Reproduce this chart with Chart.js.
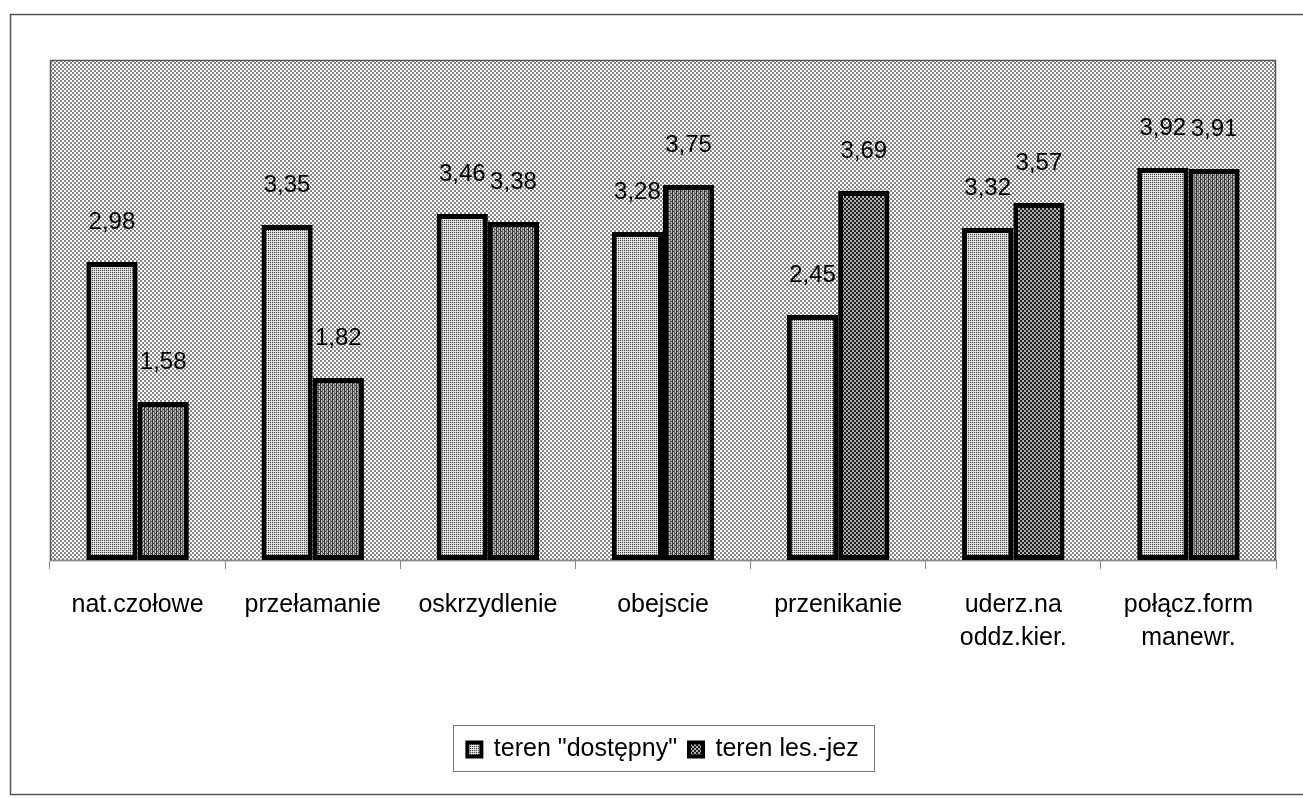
<!DOCTYPE html>
<html>
<head>
<meta charset="utf-8">
<script src="https://cdn.jsdelivr.net/npm/chart.js@4.4.1/dist/chart.umd.min.js"></script>
<style>
  body { margin: 0; background: #fff; }
  canvas { display: block; }
</style>
</head>
<body>
<canvas id="chart" width="1303" height="798"></canvas>
<script>
const categories = [
  "nat.czołowe",
  "przełamanie",
  "oskrzydlenie",
  "obejscie",
  "przenikanie",
  ["uderz.na", "oddz.kier."],
  ["połącz.form", "manewr."],
];
const seriesNames = ['teren "dostępny"', "teren les.-jez"];
const dostepny = [2.98, 3.35, 3.46, 3.28, 2.45, 3.32, 3.92];
const lesJez = [1.58, 1.82, 3.38, 3.75, 3.69, 3.57, 3.91];

function makePattern(size, draw) {
  const c = document.createElement("canvas");
  c.width = size;
  c.height = size;
  const g = c.getContext("2d");
  draw(g);
  return document.getElementById("chart").getContext("2d").createPattern(c, "repeat");
}

// plot background: coarse grey dots
const bgPattern = makePattern(4, (g) => {
  g.fillStyle = "#fdfdfd";
  g.fillRect(0, 0, 4, 4);
  g.fillStyle = "#858585";
  g.fillRect(0, 0, 2, 2);
  g.fillRect(2, 2, 2, 2);
});

// first series: fine dots
const lightPattern = makePattern(2, (g) => {
  g.fillStyle = "#cfcfcf";
  g.fillRect(0, 0, 2, 2);
  g.fillStyle = "#4a4a4a";
  g.fillRect(0, 0, 1, 1);
  g.fillStyle = "#f0f0f0";
  g.fillRect(1, 1, 1, 1);
});

// second series: vertical stripes
const stripePattern = makePattern(4, (g) => {
  g.fillStyle = "#bdbdbd";
  g.fillRect(0, 0, 4, 4);
  g.fillStyle = "#333";
  g.fillRect(0, 0, 1, 4);
  g.fillStyle = "#6a6a6a";
  g.fillRect(2, 0, 1, 4);
  g.fillStyle = "#444";
  g.fillRect(3, 1, 1, 1);
  g.fillRect(1, 3, 1, 1);
});

// second series: dense dark dots
const darkDotPattern = makePattern(4, (g) => {
  g.fillStyle = "#b0b0b0";
  g.fillRect(0, 0, 4, 4);
  g.fillStyle = "#1e1e1e";
  g.fillRect(0, 0, 2, 2);
  g.fillRect(2, 2, 2, 2);
});

const backdrop = {
  id: "backdrop",
  beforeDraw(chart) {
    const { ctx, chartArea: a } = chart;
    ctx.save();
    ctx.fillStyle = "#fff";
    ctx.fillRect(0, 0, chart.width, chart.height);
    ctx.strokeStyle = "#555";
    ctx.lineWidth = 1.5;
    ctx.beginPath();
    ctx.moveTo(1303, 14.5);
    ctx.lineTo(10.5, 14.5);
    ctx.lineTo(10.5, 794.5);
    ctx.lineTo(1303, 794.5);
    ctx.stroke();
    ctx.fillStyle = bgPattern;
    ctx.fillRect(a.left, a.top, a.right - a.left, a.bottom - a.top);
    ctx.strokeStyle = "#555";
    ctx.lineWidth = 1.5;
    ctx.strokeRect(a.left + 0.5, a.top + 0.5, a.right - a.left - 1, a.bottom - a.top);
    ctx.restore();
  },
  afterDraw(chart) {
    const lg = chart.legend;
    const boxes = lg.legendHitBoxes;
    if (!boxes || !boxes.length) return;
    const left = Math.min(...boxes.map((b) => b.left)) - 14;
    const right = Math.max(...boxes.map((b) => b.left + b.width)) + 16;
    const ctx = chart.ctx;
    ctx.save();
    ctx.strokeStyle = "#777";
    ctx.lineWidth = 1;
    ctx.strokeRect(Math.round(left) + 0.5, lg.top + 0.5, Math.round(right - left), lg.bottom - lg.top - 1);
    ctx.restore();
  },
};

const valueLabels = {
  id: "valueLabels",
  afterDatasetsDraw(chart) {
    const ctx = chart.ctx;
    ctx.save();
    ctx.font = "24px 'Liberation Sans', Arial, sans-serif";
    ctx.fillStyle = "#000";
    ctx.textAlign = "center";
    ctx.textBaseline = "middle";
    chart.data.datasets.forEach((ds, i) => {
      chart.getDatasetMeta(i).data.forEach((bar, j) => {
        const txt = ds.data[j].toFixed(2).replace(".", ",");
        ctx.fillText(txt, bar.x, bar.y - 40);
      });
    });
    ctx.restore();
  },
};

new Chart(document.getElementById("chart").getContext("2d"), {
  type: "bar",
  data: {
    labels: categories,
    datasets: [
      {
        label: seriesNames[0],
        data: dostepny,
        backgroundColor: lightPattern,
        borderColor: "#000",
        borderWidth: 5,
        borderSkipped: false,
      },
      {
        label: seriesNames[1],
        data: lesJez,
        backgroundColor: (c) =>
          c.dataIndex === 4 || c.dataIndex === 5 ? darkDotPattern : stripePattern,
        borderColor: "#000",
        borderWidth: 5,
        borderSkipped: false,
      },
    ],
  },
  options: {
    responsive: false,
    animation: false,
    layout: {
      padding: { top: 60, left: 50, right: 27, bottom: 26 },
    },
    datasets: {
      bar: {
        categoryPercentage: 0.585,
        barPercentage: 1,
      },
    },
    scales: {
      x: {
        grid: {
          offset: true,
          drawOnChartArea: false,
          tickLength: 9,
          color: "#888",
        },
        border: { color: "#888" },
        ticks: {
          color: "#000",
          padding: 20,
          maxRotation: 0,
          autoSkip: false,
          font: { family: "'Liberation Sans', Arial, sans-serif", size: 25, lineHeight: 1.3 },
        },
        afterFit(scale) {
          scale.height = 165;
        },
      },
      y: {
        display: false,
        min: 0,
        max: 5,
      },
    },
    plugins: {
      tooltip: { enabled: false },
      legend: {
        position: "bottom",
        labels: {
          color: "#000",
          boxWidth: 14,
          boxHeight: 14,
          padding: 12,
          font: { family: "'Liberation Sans', Arial, sans-serif", size: 25 },
          generateLabels(chart) {
            return chart.data.datasets.map((ds, i) => ({
              text: ds.label,
              fillStyle: i === 0 ? lightPattern : darkDotPattern,
              strokeStyle: "#000",
              lineWidth: 4,
              fontColor: "#000",
              datasetIndex: i,
              hidden: false,
            }));
          },
        },
      },
    },
  },
  plugins: [backdrop, valueLabels],
});
</script>
</body>
</html>
